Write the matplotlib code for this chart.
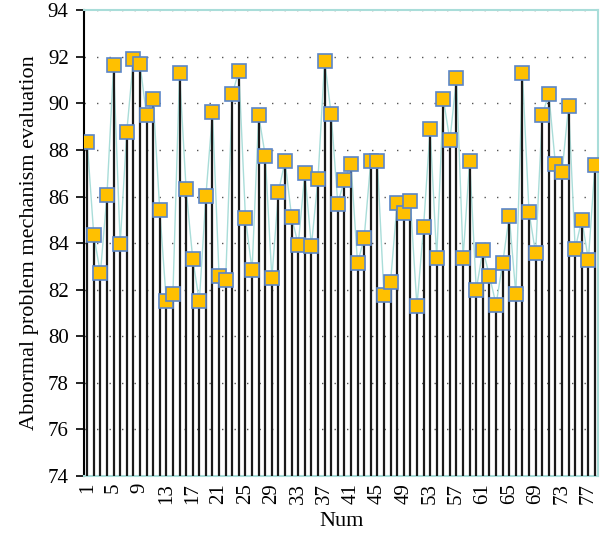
import matplotlib.pyplot as plt

# evaluation score for each sample (Num 1..78)
nums = list(range(1, 79))
scores = [88.36, 84.33, 82.71, 86.07, 91.64, 83.97, 88.77, 91.9, 91.69, 89.49,
          90.2, 85.43, 81.5, 81.83, 91.31, 86.31, 83.33, 81.5, 86.03, 89.61,
          82.57, 82.43, 90.39, 91.4, 85.07, 82.84, 89.49, 87.76, 82.51, 86.19,
          87.53, 85.11, 83.93, 87.0, 83.89, 86.76, 91.83, 89.53, 85.7, 86.71,
          87.4, 83.13, 84.23, 87.51, 87.51, 81.77, 82.34, 85.71, 85.29, 85.81,
          81.29, 84.67, 88.91, 83.36, 90.2, 88.41, 91.1, 83.36, 87.54, 82.0,
          83.71, 82.6, 81.36, 83.13, 85.17, 81.8, 91.29, 85.33, 83.56, 89.5,
          90.4, 87.39, 87.04, 89.9, 83.76, 85.01, 83.29, 87.36]
xticks = list(range(1, 79, 4))
yticks = list(range(74, 95, 2))

plt.rcParams['font.family'] = ['Liberation Serif', 'DejaVu Serif']

fig = plt.figure(figsize=(6.08, 5.39), dpi=100)
ax = fig.add_axes([0.138, 0.117, 0.846, 0.864])

cyan = '#a9ddd9'
ax.plot(nums, scores, color=cyan, lw=1.0, zorder=2)
ax.vlines(nums, 74, scores, color='#1a1a1a', lw=1.6, zorder=3)
ax.plot(nums, scores, ls='none', marker='s', markersize=10.5,
        markerfacecolor='#ffc000', markeredgecolor='#5b86c8',
        markeredgewidth=1.2, zorder=4)

ax.set_xlim(0.5, 78.5)
ax.set_ylim(74, 94)
ax.set_yticks(yticks)
ax.set_xticks(xticks)
ax.set_xticklabels([str(t) for t in xticks], rotation=90)
ax.tick_params(axis='y', direction='out', length=6, width=1.2, labelsize=15, pad=5)
ax.tick_params(axis='x', length=0, labelsize=15, pad=5)

ax.grid(axis='y', color='#555555', lw=1.0, linestyle=(0, (1, 8)))
ax.set_axisbelow(True)

for side in ['top', 'right', 'bottom']:
    ax.spines[side].set_color(cyan)
    ax.spines[side].set_linewidth(1.5)
ax.spines['left'].set_color('black')
ax.spines['left'].set_linewidth(1.5)

ax.set_xlabel('Num', fontsize=16, labelpad=6)
ax.set_ylabel('Abnormal problem mechanism evaluation', fontsize=16, labelpad=6)

plt.savefig('out.png', dpi=100)
